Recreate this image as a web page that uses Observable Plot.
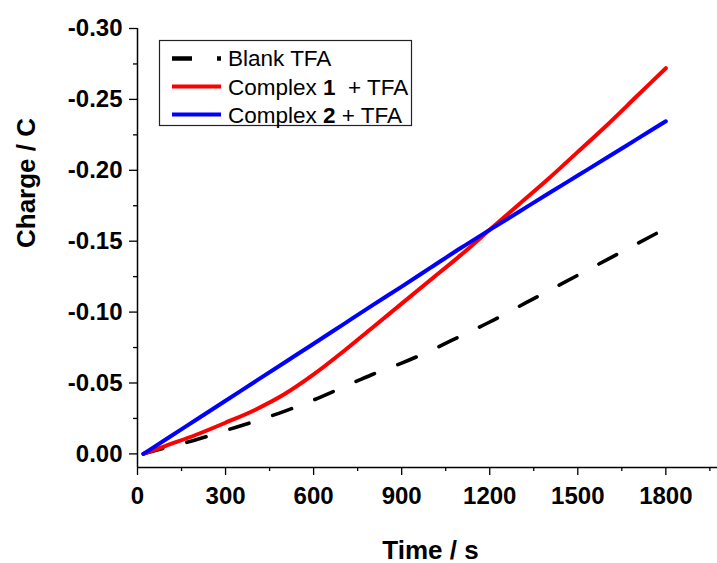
<!DOCTYPE html>
<html>
<head>
<meta charset="utf-8">
<script src="https://cdn.jsdelivr.net/npm/d3@7"></script>
<script src="https://cdn.jsdelivr.net/npm/@observablehq/plot@0.6"></script>
<style>
  html, body { margin: 0; padding: 0; background: #fff; }
  #chart { position: relative; width: 717px; height: 563px; }
  #legend { position: absolute; left: 0; top: 0; pointer-events: none; }
</style>
</head>
<body>
<div id="chart"></div>
<script>
// Sampling times (s)
const times = [20, 100, 200, 300, 400, 500, 600, 700, 800, 900, 1000,
               1100, 1200, 1300, 1400, 1500, 1600, 1700, 1800];

// Accumulated charge (C) for each electrolysis run
const blankTFA = [0, -0.0045, -0.010, -0.0165, -0.023, -0.030, -0.038, -0.047, -0.056, -0.064,
                  -0.073, -0.083, -0.093, -0.104, -0.115, -0.126, -0.137, -0.148, -0.159];
const complex1TFA = [0, -0.006, -0.0135, -0.022, -0.031, -0.042, -0.056, -0.072, -0.089, -0.106,
                     -0.123, -0.140, -0.158, -0.176, -0.194, -0.213, -0.232, -0.252, -0.272];
const complex2TFA = [0, -0.0107, -0.0241, -0.0375, -0.0509, -0.0643, -0.0777, -0.0912, -0.1047, -0.118,
                     -0.1315, -0.145, -0.158, -0.1708, -0.1836, -0.1963, -0.209, -0.2218, -0.2346];

// Axis ticks
const xTicks = [0, 300, 600, 900, 1200, 1500, 1800];
const xMinorTicks = [150, 450, 750, 1050, 1350, 1650, 1950];
const yTicks = [0, -0.05, -0.10, -0.15, -0.20, -0.25, -0.30];
const yMinorTicks = [-0.025, -0.075, -0.125, -0.175, -0.225, -0.275];
const xDomain = [0, 1976];
const yDomain = [0.0096, -0.30];

// Series names and styles
const seriesNames = ["Blank TFA", "Complex 1  + TFA", "Complex 2 + TFA"];
const seriesColors = ["#000000", "#ff0000", "#0000ff"];
const seriesValues = [blankTFA, complex1TFA, complex2TFA];

const rows = seriesValues.flatMap((vals, s) =>
  vals.map((v, i) => ({series: seriesNames[s], time: times[i], charge: v})));

const font = "'Liberation Sans', Arial, Helvetica, sans-serif";
const tickStyle = {label: null, strokeWidth: 1.3};

const plot = Plot.plot({
  width: 717,
  height: 563,
  marginLeft: 137,
  marginRight: 0,
  marginTop: 28,
  marginBottom: 96,
  style: {fontFamily: font, color: "#000", background: "#fff", overflow: "visible"},
  x: {domain: xDomain},
  y: {domain: yDomain},
  marks: [
    Plot.axisX(xTicks, {...tickStyle, tickSize: 8, tickPadding: 11,
      tickFormat: d => `${d}`, fontSize: 24, fontWeight: "bold"}),
    Plot.axisX(xMinorTicks, {...tickStyle, tickSize: 4, fill: "none"}),
    Plot.axisY(yTicks, {...tickStyle, tickSize: 8, tickPadding: 7,
      tickFormat: d => d.toFixed(2), fontSize: 24, fontWeight: "bold"}),
    Plot.axisY(yMinorTicks, {...tickStyle, tickSize: 4, fill: "none"}),
    Plot.ruleX([xDomain[0]], {strokeWidth: 1.5}),
    Plot.ruleY([yDomain[0]], {strokeWidth: 1.5}),
    // Blank run: dashed black
    Plot.line(rows.filter(d => d.series === seriesNames[0]), {
      x: "time", y: "charge", stroke: seriesColors[0], strokeWidth: 3.6,
      strokeDasharray: "20,25", curve: "monotone-x"}),
    // Complex runs: solid coloured lines
    Plot.line(rows.filter(d => d.series !== seriesNames[0]), {
      x: "time", y: "charge", z: "series",
      stroke: d => seriesColors[seriesNames.indexOf(d.series)],
      strokeWidth: 4, curve: "monotone-x"}),
    Plot.text(["Time / s"], {frameAnchor: "bottom", lineAnchor: "bottom",
      dy: 91, dx: 3, fontSize: 26, fontWeight: "bold", fill: "#000"}),
    Plot.text(["Charge / C"], {frameAnchor: "left", rotate: -90,
      dx: -111, fontSize: 26, fontWeight: "bold", fill: "#000"})
  ]
});

const chart = document.getElementById("chart");
chart.appendChild(plot);

// Legend box in the upper-left of the plotting area
const ns = "http://www.w3.org/2000/svg";
const legend = document.createElementNS(ns, "svg");
legend.setAttribute("id", "legend");
legend.setAttribute("width", 717);
legend.setAttribute("height", 563);
const box = document.createElementNS(ns, "rect");
box.setAttribute("x", 159.5);
box.setAttribute("y", 40.5);
box.setAttribute("width", 252);
box.setAttribute("height", 85);
box.setAttribute("fill", "#fff");
box.setAttribute("stroke", "#222");
box.setAttribute("stroke-width", 1.2);
legend.appendChild(box);
const swatchY = [58.5, 86.5, 114.5];
const textY = [66, 94.5, 123];
seriesNames.forEach((name, i) => {
  const ln = document.createElementNS(ns, "line");
  ln.setAttribute("x1", 172);
  ln.setAttribute("x2", 221);
  ln.setAttribute("y1", swatchY[i]);
  ln.setAttribute("y2", swatchY[i]);
  ln.setAttribute("stroke", seriesColors[i]);
  ln.setAttribute("stroke-width", i === 0 ? 4.5 : 4);
  if (i === 0) ln.setAttribute("stroke-dasharray", "20,25");
  legend.appendChild(ln);
  const t = document.createElementNS(ns, "text");
  t.setAttribute("x", 228);
  t.setAttribute("y", textY[i]);
  t.setAttribute("font-family", font);
  t.setAttribute("font-size", 22.5);
  t.setAttribute("fill", "#000");
  t.style.whiteSpace = "pre";
  const m = name.match(/^(Complex )(\d)(.*)$/);
  if (m) {
    const a = document.createElementNS(ns, "tspan"); a.textContent = m[1];
    const b = document.createElementNS(ns, "tspan"); b.textContent = m[2];
    b.setAttribute("font-weight", "bold");
    const c = document.createElementNS(ns, "tspan"); c.textContent = m[3];
    t.append(a, b, c);
  } else {
    t.textContent = name;
  }
  legend.appendChild(t);
});
chart.appendChild(legend);
</script>
</body>
</html>
